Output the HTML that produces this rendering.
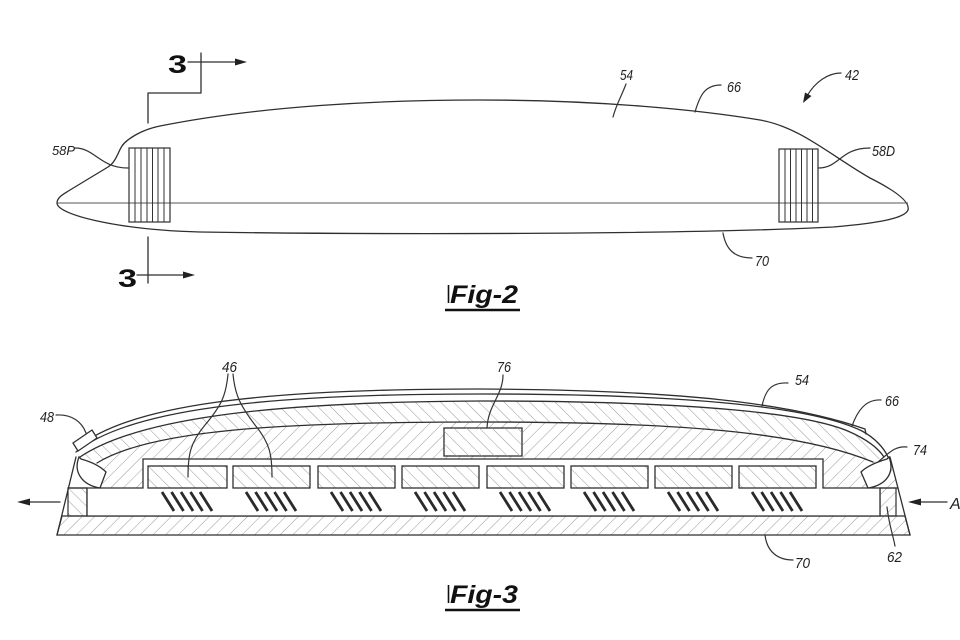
<!DOCTYPE html>
<html>
<head>
<meta charset="utf-8">
<style>
html,body{margin:0;padding:0;background:#fff;}
svg{display:block;}
.ln{fill:none;stroke:#2f2f2f;stroke-width:1.3;stroke-linecap:round;stroke-linejoin:round;}
.ld{fill:none;stroke:#333;stroke-width:1.2;stroke-linecap:round;}
.lb{font-family:"Liberation Sans Narrow","Liberation Sans",sans-serif;font-style:italic;font-size:15px;fill:#222;}
.fg{font-family:"Liberation Sans",sans-serif;font-style:italic;font-weight:bold;font-size:25px;fill:#111;}
.sec{font-family:"Liberation Sans",sans-serif;font-weight:bold;font-size:25px;fill:#111;}
</style>
</head>
<body>
<svg width="960" height="640" viewBox="0 0 960 640" xmlns="http://www.w3.org/2000/svg">
<defs>
  <pattern id="hf" patternUnits="userSpaceOnUse" width="9" height="9" patternTransform="rotate(45)">
    <line x1="0" y1="0" x2="0" y2="9" stroke="#9a9a9a" stroke-width="1"/>
  </pattern>
  <pattern id="hb" patternUnits="userSpaceOnUse" width="9" height="9" patternTransform="rotate(-45)">
    <line x1="0" y1="0" x2="0" y2="9" stroke="#9a9a9a" stroke-width="1"/>
  </pattern>
</defs>

<!-- ================= FIG 2 ================= -->
<path class="ln" d="M 57 203 C 57 197, 64 194, 70 190 L 108 167 C 116 162, 118 152, 122 146 C 126 140, 140 130, 160 126 C 260 106, 380 100, 480 100 C 600 100, 700 110, 760 120 C 800 127, 830 155, 870 178 C 900 193, 910 203, 908 210 C 905 218, 880 223, 833 227 C 700 234, 400 235, 200 232 C 120 230, 57 215, 57 203 Z"/>
<line x1="57" y1="203" x2="908" y2="203" stroke="#555" stroke-width="1"/>

<!-- 58P box -->
<rect x="129" y="148" width="41" height="74" fill="none" stroke="#2f2f2f" stroke-width="1.2"/>
<g stroke="#333" stroke-width="1">
  <line x1="135" y1="148" x2="135" y2="222"/>
  <line x1="141" y1="148" x2="141" y2="222"/>
  <line x1="147" y1="148" x2="147" y2="222"/>
  <line x1="152.5" y1="148" x2="152.5" y2="222"/>
  <line x1="158" y1="148" x2="158" y2="222"/>
  <line x1="164" y1="148" x2="164" y2="222"/>
</g>
<!-- 58D box -->
<rect x="779" y="149" width="39" height="73" fill="none" stroke="#2f2f2f" stroke-width="1.2"/>
<g stroke="#333" stroke-width="1">
  <line x1="785" y1="149" x2="785" y2="222"/>
  <line x1="790.5" y1="149" x2="790.5" y2="222"/>
  <line x1="796" y1="149" x2="796" y2="222"/>
  <line x1="801.5" y1="149" x2="801.5" y2="222"/>
  <line x1="807" y1="149" x2="807" y2="222"/>
  <line x1="812.5" y1="149" x2="812.5" y2="222"/>
</g>

<!-- section markers -->
<path class="ln" d="M148 123 V93 H201 V53"/>
<line class="ln" x1="188" y1="62" x2="237" y2="62"/>
<polygon points="247,62 235,58.5 235,65.5" fill="#222"/>
<text class="sec" x="168" y="73" textLength="19" lengthAdjust="spacingAndGlyphs">3</text>
<line class="ln" x1="148" y1="237" x2="148" y2="283"/>
<line class="ln" x1="137" y1="275" x2="185" y2="275"/>
<polygon points="195,275 183,271.5 183,278.5" fill="#222"/>
<text class="sec" x="118" y="287" textLength="19" lengthAdjust="spacingAndGlyphs">3</text>

<!-- fig2 labels & leaders -->
<text class="lb" x="52" y="155" textLength="23" lengthAdjust="spacingAndGlyphs" style="font-size:13px">58P</text>
<path class="ld" d="M 75 148 C 95 148, 100 168, 128 168"/>
<text class="lb" x="620" y="80" textLength="13" lengthAdjust="spacingAndGlyphs">54</text>
<path class="ld" d="M 626 84 C 622 95, 616 105, 613 117"/>
<text class="lb" x="727" y="92" textLength="14" lengthAdjust="spacingAndGlyphs">66</text>
<path class="ld" d="M 721 85 C 705 85, 700 95, 695 112"/>
<text class="lb" x="845" y="80" textLength="14" lengthAdjust="spacingAndGlyphs">42</text>
<path class="ld" d="M 841 73 C 828 73, 815 82, 807 96"/>
<polygon points="803,103 811.5,96 805,92.5" fill="#222"/>
<text class="lb" x="872" y="156" textLength="23" lengthAdjust="spacingAndGlyphs">58D</text>
<path class="ld" d="M 818 168 C 840 168, 840 148, 870 148"/>
<text class="lb" x="755" y="266" textLength="14" lengthAdjust="spacingAndGlyphs">70</text>
<path class="ld" d="M 723 233 C 726 250, 735 258, 752 258"/>

<!-- Fig-2 title -->
<line x1="448.5" y1="285" x2="448.5" y2="303" stroke="#111" stroke-width="1.6"/>
<text class="fg" x="450" y="303" textLength="68" lengthAdjust="spacingAndGlyphs">Fig-2</text>
<line x1="445" y1="310" x2="520" y2="310" stroke="#111" stroke-width="2.6"/>

<!-- ================= FIG 3 ================= -->
<!-- base plate -->
<polygon points="57,535 910,535 905,516 62,516" fill="url(#hf)" stroke="#2f2f2f" stroke-width="1.3"/>
<!-- left & right blocks -->
<rect x="68" y="488" width="19" height="28" fill="url(#hb)" stroke="#2f2f2f" stroke-width="1.2"/>
<rect x="880" y="488" width="16" height="28" fill="url(#hf)" stroke="#2f2f2f" stroke-width="1.2"/>

<!-- housing below inner curve D ( / hatch) -->
<path fill="url(#hf)" d="M 100 462 C 150 430, 280 422, 480 422 C 680 422, 800 432, 873 462 L 890 458 L 898 488 L 823 488 L 823 459 L 143 459 L 143 488 L 100 488 Z"/>
<!-- lens body between C and D -->
<path fill="url(#hb)" d="M 80 457 C 135 420, 260 402, 480 401 C 700 401, 810 414, 850 432 C 868 440, 878 448, 884 457 L 873 462 C 800 432, 680 422, 480 422 C 280 422, 150 430, 100 462 Z"/>

<!-- lens lines -->
<path class="ln" d="M 78 447 C 130 405, 260 389, 480 389 C 680 390, 790 403, 865 429 L 866 434"/>
<path class="ln" d="M 76 452 C 128 410, 260 394, 480 394 C 700 394, 815 408, 862 431 C 875 438, 884 448, 888 457"/>
<path class="ln" d="M 80 457 C 135 420, 260 402, 480 401 C 700 401, 810 414, 850 432 C 868 440, 878 448, 884 457"/>
<path class="ln" d="M 97 463 C 150 430, 280 422, 480 422 C 680 422, 800 432, 873 462"/>

<!-- outer walls -->
<line class="ln" x1="57" y1="535" x2="76" y2="457"/>
<line class="ln" x1="910" y1="535" x2="890" y2="457"/>

<!-- chamber -->
<path fill="#fff" stroke="#2f2f2f" stroke-width="1.3" d="M 87 488 L 143 488 L 143 459 L 823 459 L 823 488 L 880 488 L 880 516 L 87 516 Z"/>
<line class="ln" x1="68" y1="488" x2="87" y2="488"/>
<line class="ln" x1="880" y1="488" x2="898" y2="488"/>

<!-- reflectors -->
<path fill="#fff" stroke="#2f2f2f" stroke-width="1.3" d="M 79 457 C 73 472, 82 485, 100 488 L 106 472 C 100 466, 92 462, 81 459 Z"/>
<path fill="#fff" stroke="#2f2f2f" stroke-width="1.3" d="M 889 457 C 895 472, 887 485, 868 488 L 861 472 C 867 466, 877 462, 887 459 Z"/>
<!-- 48 clip -->
<polygon points="73,443 92,430 97,438 78,451" fill="#fff" stroke="#2f2f2f" stroke-width="1.3"/>

<!-- 76 box -->
<rect x="444" y="428" width="78" height="28" fill="#fff" stroke="#2f2f2f" stroke-width="1.3"/>
<rect x="444" y="428" width="78" height="28" fill="url(#hb)"/>

<!-- LED boards -->
<g stroke="#2f2f2f" stroke-width="1.3">
  <rect x="148" y="466" width="79" height="22" fill="url(#hb)"/>
  <rect x="233" y="466" width="77" height="22" fill="url(#hb)"/>
  <rect x="318" y="466" width="77" height="22" fill="url(#hb)"/>
  <rect x="402" y="466" width="77" height="22" fill="url(#hb)"/>
  <rect x="487" y="466" width="77" height="22" fill="url(#hb)"/>
  <rect x="571" y="466" width="77" height="22" fill="url(#hb)"/>
  <rect x="655" y="466" width="77" height="22" fill="url(#hb)"/>
  <rect x="739" y="466" width="77" height="22" fill="url(#hb)"/>
</g>

<!-- LED rays -->
<g stroke="#2a2a2a" stroke-width="2.8" stroke-linecap="butt">
  <path d="M162 492 l12 19 M171.5 492 l12 19 M181 492 l12 19 M190.5 492 l12 19 M200 492 l12 19"/>
  <path d="M246 492 l12 19 M255.5 492 l12 19 M265 492 l12 19 M274.5 492 l12 19 M284 492 l12 19"/>
  <path d="M331 492 l12 19 M340.5 492 l12 19 M350 492 l12 19 M359.5 492 l12 19 M369 492 l12 19"/>
  <path d="M415 492 l12 19 M424.5 492 l12 19 M434 492 l12 19 M443.5 492 l12 19 M453 492 l12 19"/>
  <path d="M500 492 l12 19 M509.5 492 l12 19 M519 492 l12 19 M528.5 492 l12 19 M538 492 l12 19"/>
  <path d="M584 492 l12 19 M593.5 492 l12 19 M603 492 l12 19 M612.5 492 l12 19 M622 492 l12 19"/>
  <path d="M668 492 l12 19 M677.5 492 l12 19 M687 492 l12 19 M696.5 492 l12 19 M706 492 l12 19"/>
  <path d="M752 492 l12 19 M761.5 492 l12 19 M771 492 l12 19 M780.5 492 l12 19 M790 492 l12 19"/>
</g>

<!-- airflow arrows -->
<line class="ln" x1="60" y1="502" x2="28" y2="502"/>
<polygon points="17,502 30,498.5 30,505.5" fill="#222"/>
<line class="ln" x1="947" y1="502" x2="919" y2="502"/>
<polygon points="908,502 921,498.5 921,505.5" fill="#222"/>
<text class="lb" x="950" y="509" style="font-size:16px">A</text>

<!-- fig3 labels & leaders -->
<text class="lb" x="40" y="422" textLength="14" lengthAdjust="spacingAndGlyphs">48</text>
<path class="ld" d="M 56 415 C 72 414, 82 422, 86 433"/>
<text class="lb" x="222" y="372" textLength="15" lengthAdjust="spacingAndGlyphs">46</text>
<path class="ld" d="M 228 374 C 226 395, 222 405, 205 425 C 190 443, 188 455, 188 477"/>
<path class="ld" d="M 233 374 C 235 395, 240 405, 255 425 C 270 443, 272 455, 272 477"/>
<text class="lb" x="497" y="372" textLength="14" lengthAdjust="spacingAndGlyphs">76</text>
<path class="ld" d="M 503 375 C 503 395, 488 405, 487 428"/>
<text class="lb" x="795" y="385" textLength="14" lengthAdjust="spacingAndGlyphs">54</text>
<path class="ld" d="M 788 383 C 770 382, 765 392, 762 406"/>
<text class="lb" x="885" y="406" textLength="14" lengthAdjust="spacingAndGlyphs">66</text>
<path class="ld" d="M 881 400 C 865 399, 857 412, 852 426"/>
<text class="lb" x="913" y="455" textLength="14" lengthAdjust="spacingAndGlyphs">74</text>
<path class="ld" d="M 907 447 C 895 446, 890 452, 878 462"/>
<text class="lb" x="887" y="562" textLength="15" lengthAdjust="spacingAndGlyphs">62</text>
<path class="ld" d="M 887 507 C 889 525, 893 535, 895 546"/>
<text class="lb" x="795" y="568" textLength="15" lengthAdjust="spacingAndGlyphs">70</text>
<path class="ld" d="M 765 535 C 767 552, 778 560, 793 560"/>

<!-- Fig-3 title -->
<line x1="448.5" y1="585" x2="448.5" y2="603" stroke="#111" stroke-width="1.6"/>
<text class="fg" x="450" y="603" textLength="68" lengthAdjust="spacingAndGlyphs">Fig-3</text>
<line x1="445" y1="610" x2="520" y2="610" stroke="#111" stroke-width="2.6"/>
</svg>
</body>
</html>
